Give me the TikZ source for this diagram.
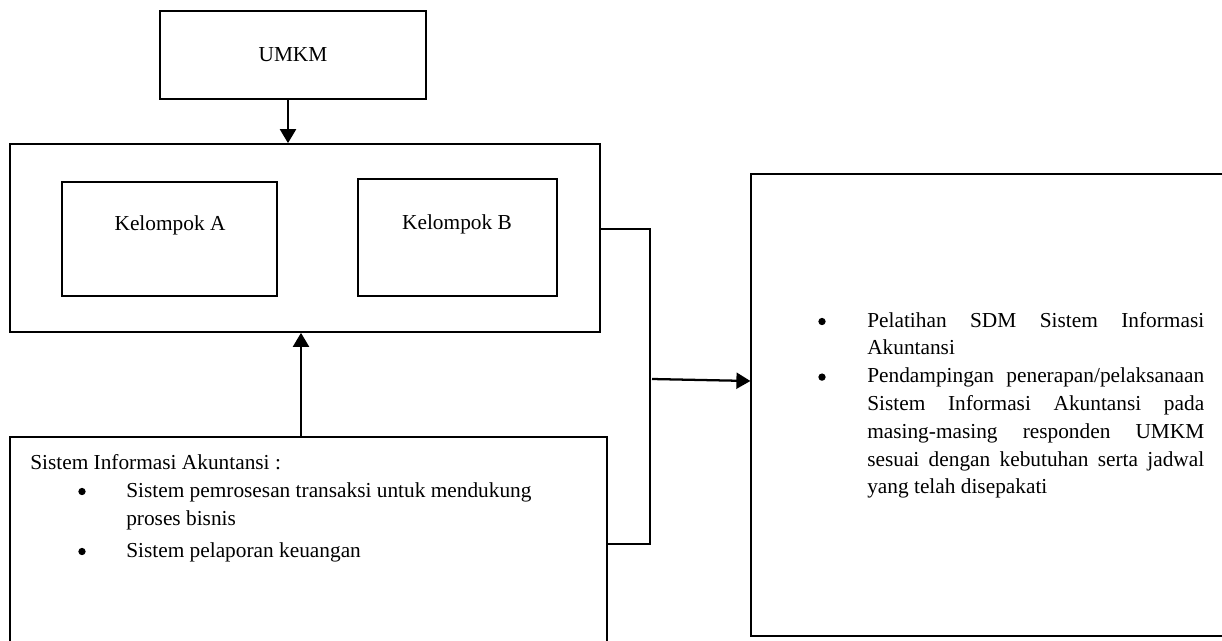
\documentclass[tikz,border=0pt]{standalone}
\usepackage{fontspec}
\setmainfont{Liberation Serif}
\usetikzlibrary{arrows.meta,fit}
\begin{document}
\begin{tikzpicture}[x=0.75pt,y=-0.75pt,
  box/.style={draw, line width=0.9pt, inner sep=0pt},
  bigbox/.style={draw, line width=1.3pt, inner sep=0pt},
  txt/.style={inner sep=0pt, font=\fontsize{16}{19}\selectfont},
  dot/.style={circle, fill, draw=none, inner sep=0pt, minimum size=5.5pt},
  arr/.style={line width=1.7pt, -{Triangle[length=10.5pt,width=12pt]}},
  conn/.style={line width=1.3pt}]
\useasboundingbox (0,0) rectangle (1222,640);
\clip (0,0) rectangle (1222,640);
% boxes
\node[box, fit={(160,11)(426,99)}] (umkm) {};
\node[txt] (umkmt) at (293,55) {UMKM};
\node[bigbox, fit={(10,144)(600,332)}] (grp) {};
\node[box, fit={(62,182)(277,296)}] (ka) {};
\node[txt] (kat) at (170,225) {Kelompok A};
\node[box, fit={(358,179)(557,296)}] (kb) {};
\node[txt] (kbt) at (457,224) {Kelompok B};
\node[box, fit={(10,437)(607,700)}] (sia) {};
\node[box, fit={(751,174)(1260,636)}] (out) {};
% left box text
\node[txt, anchor=base west] (s0) at (30,469) {Sistem Informasi Akuntansi :};
\node[dot] (d1) at (82,491.5) {};
\node[txt, anchor=base west] (s1) at (126,497) {Sistem pemrosesan transaksi untuk mendukung};
\node[txt, anchor=base west] (s2) at (126,525) {proses bisnis};
\node[dot] (d2) at (82,551.5) {};
\node[txt, anchor=base west] (s3) at (126,557) {Sistem pelaporan keuangan};
% right box text
\node[dot] (e1) at (822,321.5) {};
\node[txt, anchor=base west] (r1) at (867,327) {\makebox[252.75pt][s]{Pelatihan SDM Sistem Informasi}};
\node[txt, anchor=base west] (r2) at (867,354.8) {Akuntansi};
\node[dot] (e2) at (822,377.1) {};
\node[txt, anchor=base west] (r3) at (867,382.6) {\makebox[252.75pt][s]{Pendampingan penerapan/pelaksanaan}};
\node[txt, anchor=base west] (r4) at (867,410.4) {\makebox[252.75pt][s]{Sistem Informasi Akuntansi pada}};
\node[txt, anchor=base west] (r5) at (867,438.2) {\makebox[252.75pt][s]{masing-masing responden UMKM}};
\node[txt, anchor=base west] (r6) at (867,466) {\makebox[252.75pt][s]{sesuai dengan kebutuhan serta jadwal}};
\node[txt, anchor=base west] (r7) at (867,493.8) {yang telah disepakati};
% connectors
\coordinate (c1) at (288,0);
\draw[arr] (umkm.south -| c1) -- (grp.north -| c1);
\coordinate (c2) at (301,0);
\draw[arr] (sia.north -| c2) -- (grp.south -| c2);
\coordinate (ja) at (650,229);
\coordinate (jb) at (650,544);
\draw[conn] (grp.east |- ja) -- (ja) -- (jb) -- (sia.east |- jb);
\coordinate (jc) at (652,379);
\coordinate (ain) at (0,381);
\draw[arr] (jc) -- (out.west |- ain);
\end{tikzpicture}
\end{document}
